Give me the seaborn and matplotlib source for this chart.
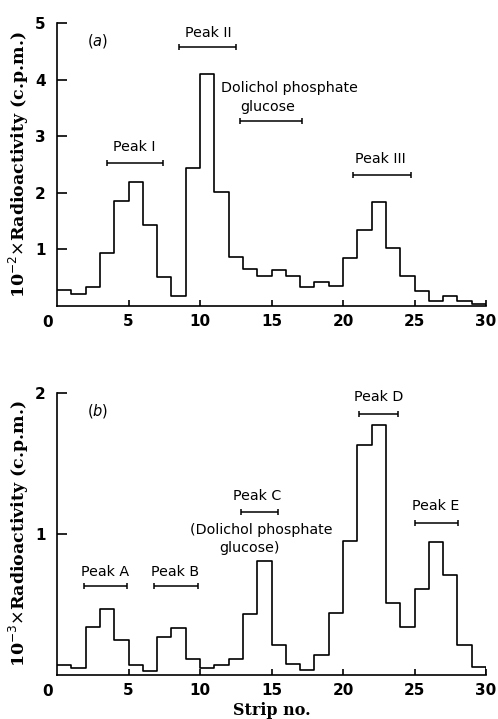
import numpy as np
import pandas as pd
import matplotlib
matplotlib.use("Agg")
import matplotlib.pyplot as plt
import seaborn as sns

# ---- data ----
strip_edges = list(range(0, 31))
strips = [e + 0.5 for e in range(30)]
values_a = [0.28, 0.22, 0.34, 0.94, 1.85, 2.19, 1.44, 0.52, 0.18, 2.44,
            4.10, 2.02, 0.87, 0.65, 0.53, 0.64, 0.53, 0.33, 0.43, 0.35,
            0.84, 1.34, 1.83, 1.02, 0.53, 0.26, 0.09, 0.18, 0.09, 0.03]
values_b = [0.07, 0.047, 0.34, 0.47, 0.25, 0.07, 0.03, 0.27, 0.33, 0.11,
            0.05, 0.07, 0.11, 0.43, 0.81, 0.21, 0.076, 0.035, 0.14, 0.44,
            0.95, 1.63, 1.77, 0.51, 0.34, 0.61, 0.94, 0.71, 0.21, 0.054]
x_ticks = [5, 10, 15, 20, 25, 30]
y_ticks_a = [1, 2, 3, 4, 5]
y_ticks_b = [1, 2]

# annotations: (label, text_x, text_y, bar_start, bar_end, bar_y)
peaks_a = [
    ("Peak I", 5.4, 2.81, 3.5, 7.4, 2.53),
    ("Peak II", 10.6, 4.83, 8.55, 12.5, 4.58),
    ("Peak III", 22.6, 2.60, 20.7, 24.75, 2.31),
]
dol_a = [("Dolichol phosphate", 16.25, 3.85), ("glucose", 14.7, 3.52)]
dol_bar_a = (12.77, 17.1, 3.26)
peaks_b = [
    ("Peak A", 3.36, 0.73, 1.9, 4.87, 0.63),
    ("Peak B", 8.26, 0.73, 6.8, 9.85, 0.63),
    ("Peak C", 13.98, 1.27, 12.9, 15.43, 1.158),
    ("Peak D", 22.5, 1.97, 21.1, 23.85, 1.85),
    ("Peak E", 26.47, 1.20, 25.0, 28.03, 1.08),
]
dol_b = [("(Dolichol phosphate", 14.27, 1.03), ("glucose)", 13.43, 0.90)]

sns.set_theme(style="ticks")
plt.rcParams['font.family'] = ['DejaVu Sans']
plt.rcParams['text.color'] = 'black'
plt.rcParams['axes.labelcolor'] = 'black'
plt.rcParams['xtick.color'] = 'black'
plt.rcParams['ytick.color'] = 'black'
plt.rcParams['axes.edgecolor'] = 'black'

fig = plt.figure(figsize=(4.98, 7.19), dpi=100)
ax_a = fig.add_axes([0.1145, 0.5744, 0.8614, 0.3936])
ax_b = fig.add_axes([0.1145, 0.0612, 0.8614, 0.3926])

lw = 1.2
serif = ['DejaVu Serif']
ann_fs = 10.3


def draw_panel(ax, values, ymax, yticks, ylabel, tag, peaks, dol, dol_bar=None):
    df = pd.DataFrame({"strip": strips, "cpm": values})
    sns.histplot(data=df, x="strip", weights="cpm", bins=strip_edges,
                 element="step", fill=False, color="black", linewidth=lw, ax=ax)
    ax.vlines(strip_edges[-1], 0, values[-1], color="black", linewidth=lw)
    ax.set_xlim(0, 30)
    ax.set_ylim(0, ymax)
    ax.set_xticks(x_ticks)
    ax.set_yticks(yticks)
    ax.tick_params(axis="x", direction="in", length=4, width=lw, labelsize=11, pad=6,
                   colors="black")
    ax.tick_params(axis="y", direction="in", length=7, width=lw, labelsize=11, pad=8,
                   colors="black")
    for t in ax.get_xticklabels() + ax.get_yticklabels():
        t.set_fontweight("bold")
    for s in ["left", "bottom"]:
        ax.spines[s].set_linewidth(lw)
        ax.spines[s].set_color("black")
    sns.despine(ax=ax)
    ax.set_ylabel(ylabel, fontsize=12.5, fontweight="bold", family=serif, labelpad=3,
                  color="black")
    ax.set_xlabel("")
    ax.text(-0.022, -0.058, "0", transform=ax.transAxes, ha="center", va="center",
            fontsize=11, fontweight="bold", color="black")
    ax.text(0.095, 0.935, tag, transform=ax.transAxes, ha="center", va="center",
            fontsize=10.5, color="black")
    for label, tx, ty, b0, b1, by in peaks:
        ax.text(tx, ty, label, ha="center", va="center", fontsize=ann_fs, color="black")
        ax.errorbar([(b0 + b1) / 2], [by], xerr=[[(b1 - b0) / 2], [(b1 - b0) / 2]],
                    fmt="none", ecolor="black", elinewidth=1.1, capsize=2.5, capthick=1.1)
    for label, tx, ty in dol:
        ax.text(tx, ty, label, ha="center", va="center", fontsize=ann_fs, color="black")
    if dol_bar is not None:
        b0, b1, by = dol_bar
        ax.errorbar([(b0 + b1) / 2], [by], xerr=[[(b1 - b0) / 2], [(b1 - b0) / 2]],
                    fmt="none", ecolor="black", elinewidth=1.1, capsize=2.5, capthick=1.1)


draw_panel(ax_a, values_a, 5, y_ticks_a, r"10$^{-2}$$\times$Radioactivity (c.p.m.)",
           r"($\it{a}$)", peaks_a, dol_a, dol_bar_a)
draw_panel(ax_b, values_b, 2, y_ticks_b, r"10$^{-3}$$\times$Radioactivity (c.p.m.)",
           r"($\it{b}$)", peaks_b, dol_b)
ax_b.set_xlabel("Strip no.", fontsize=11.5, fontweight="bold", family=serif, labelpad=3,
                color="black")

fig.savefig("out.png", dpi=100, facecolor="white")
